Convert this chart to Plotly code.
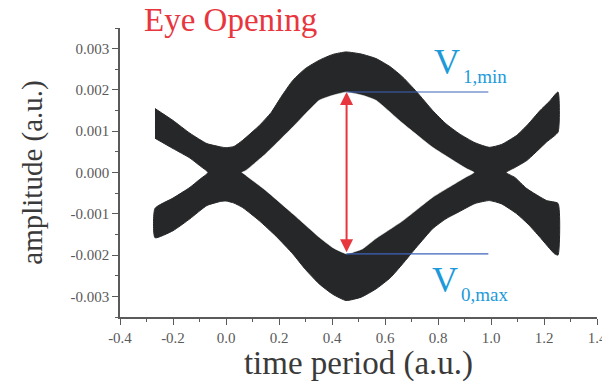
import plotly.graph_objects as go

# Amplitudes below are given in units of 1e-3 (a.u.)
AMP = 1e-3

# Outer envelope of the superimposed waveforms, traced left to right along the top
top_edge_x = [-0.268, -0.2, -0.136, -0.072, -0.02, 0.0, 0.03, 0.063, 0.126, 0.17, 0.21, 0.252, 0.30,
              0.352, 0.403, 0.453, 0.51, 0.566, 0.62, 0.667, 0.72, 0.78, 0.83, 0.88, 0.94, 0.994,
              1.04, 1.097, 1.14, 1.185, 1.22, 1.253]
top_edge_y = [1.55, 1.26, 0.95, 0.70, 0.62, 0.60, 0.63, 0.78, 1.14, 1.45, 1.85, 2.23, 2.52,
              2.72, 2.86, 2.92, 2.87, 2.76, 2.56, 2.31, 1.95, 1.50, 1.18, 0.94, 0.72, 0.61,
              0.68, 0.90, 1.17, 1.50, 1.72, 1.95]

# Inner edges of the right-hand arms (upper arm going left into the notch, lower arm going out)
right_upper_inner_x = [1.253, 1.21, 1.135, 1.09, 1.057]
right_upper_inner_y = [0.98, 0.74, 0.29, 0.12, 0.0]
right_lower_inner_x = [1.09, 1.135, 1.21, 1.253]
right_lower_inner_y = [-0.12, -0.39, -0.68, -0.75]

# Outer envelope along the bottom, traced right to left
bottom_edge_x = [1.253, 1.24, 1.185, 1.14, 1.097, 1.04, 0.994, 0.94, 0.88, 0.83, 0.78, 0.72, 0.667,
                 0.62, 0.566, 0.51, 0.453, 0.403, 0.352, 0.30, 0.252, 0.19, 0.126, 0.063, 0.03, 0.0,
                 -0.02, -0.072, -0.136, -0.2, -0.268]
bottom_edge_y = [-2.0, -1.97, -1.57, -1.25, -1.0, -0.76, -0.68, -0.75, -0.95, -1.12, -1.36, -1.8, -2.21,
                 -2.55, -2.82, -3.02, -3.1, -2.95, -2.7, -2.35, -1.97, -1.55, -1.17, -0.85, -0.74, -0.69,
                 -0.70, -0.80, -1.12, -1.41, -1.58]

# Inner edges of the left-hand arms
left_lower_inner_x = [-0.268, -0.2, -0.136, -0.10, -0.068]
left_lower_inner_y = [-0.87, -0.62, -0.36, -0.17, 0.0]
left_upper_inner_x = [-0.10, -0.136, -0.2, -0.268]
left_upper_inner_y = [0.17, 0.35, 0.58, 0.83]

# Open eye (the clear region between the "1" and "0" traces)
eye_top_x = [0.059, 0.075, 0.151, 0.252, 0.352, 0.403, 0.455, 0.515, 0.566, 0.667, 0.78, 0.906, 0.936]
eye_top_y = [0.0, 0.05, 0.46, 1.10, 1.75, 1.87, 1.95, 1.87, 1.75, 1.19, 0.61, 0.10, 0.0]
eye_bottom_x = [0.906, 0.78, 0.667, 0.566, 0.515, 0.455, 0.403, 0.352, 0.252, 0.151, 0.075]
eye_bottom_y = [-0.11, -0.6, -1.17, -1.6, -1.85, -1.97, -1.82, -1.57, -1.0, -0.44, -0.07]

# Sampling instant and the eye levels measured there
t_sample = 0.455
v1_min = 1.95
v0_max = -1.97
level_line_end = 0.99

# Axis ticks
x_ticks = [-0.4, -0.2, 0.0, 0.2, 0.4, 0.6, 0.8, 1.0, 1.2, 1.4]
x_ticktext = ["-0.4", "-0.2", "0.0", "0.2", "0.4", "0.6", "0.8", "1.0", "1.2", "1.4"]
x_minor = [-0.3, -0.1, 0.1, 0.3, 0.5, 0.7, 0.9, 1.1, 1.3]
y_ticks = [-0.003, -0.002, -0.001, 0.0, 0.001, 0.002, 0.003]
y_ticktext = ["-0.003", "-0.002", "-0.001", "0.000", "0.001", "0.002", "0.003"]
y_minor = [-0.0035, -0.0025, -0.0015, -0.0005, 0.0005, 0.0015, 0.0025, 0.0035]

BAND = "#262728"
RED = "#e8363e"
BLUE_TXT = "#1d9ad9"
BLUE_LINE = "#3f63ba"
GREY = "#5a5a5a"
SERIF = "Liberation Serif, Times New Roman, serif"

outline_x = (top_edge_x + right_upper_inner_x + right_lower_inner_x + bottom_edge_x
             + left_lower_inner_x + left_upper_inner_x)
outline_y = (top_edge_y + right_upper_inner_y + right_lower_inner_y + bottom_edge_y
             + left_lower_inner_y + left_upper_inner_y)
eye_x = eye_top_x + eye_bottom_x
eye_y = eye_top_y + eye_bottom_y

fig = go.Figure()
fig.add_trace(go.Scatter(
    x=outline_x, y=[v * AMP for v in outline_y], mode="lines", fill="toself",
    fillcolor=BAND, line=dict(color=BAND, width=1, shape="spline", smoothing=0.5),
    hoverinfo="skip", showlegend=False))
fig.add_trace(go.Scatter(
    x=eye_x, y=[v * AMP for v in eye_y], mode="lines", fill="toself",
    fillcolor="white", line=dict(color="white", width=0.5, shape="spline", smoothing=0.4),
    hoverinfo="skip", showlegend=False))

# Eye levels
for lvl in (v1_min, v0_max):
    fig.add_trace(go.Scatter(
        x=[t_sample, level_line_end], y=[lvl * AMP, lvl * AMP], mode="lines",
        line=dict(color=BLUE_LINE, width=1.1), hoverinfo="skip", showlegend=False))

# Eye opening arrow
fig.add_annotation(
    x=t_sample, y=v1_min * AMP, ax=t_sample, ay=v0_max * AMP,
    xref="x", yref="y", axref="x", ayref="y", text="", showarrow=True,
    arrowhead=2, startarrowhead=2, arrowside="end+start", arrowsize=1.3,
    startarrowsize=1.3, arrowwidth=2, arrowcolor=RED)

# Level labels
fig.add_annotation(x=0.777, y=2.68 * AMP, xref="x", yref="y", text="V", showarrow=False,
                   xanchor="left", yanchor="middle", font=dict(family=SERIF, size=36, color=BLUE_TXT))
fig.add_annotation(x=0.885, y=2.33 * AMP, xref="x", yref="y", text="1,min", showarrow=False,
                   xanchor="left", yanchor="middle", font=dict(family=SERIF, size=19, color=BLUE_TXT))
fig.add_annotation(x=0.770, y=-2.60 * AMP, xref="x", yref="y", text="V", showarrow=False,
                   xanchor="left", yanchor="middle", font=dict(family=SERIF, size=36, color=BLUE_TXT))
fig.add_annotation(x=0.878, y=-2.95 * AMP, xref="x", yref="y", text="0,max", showarrow=False,
                   xanchor="left", yanchor="middle", font=dict(family=SERIF, size=19, color=BLUE_TXT))

fig.update_layout(
    width=602, height=382,
    margin=dict(l=120, r=5, t=28, b=65),
    paper_bgcolor="white", plot_bgcolor="white",
    title=dict(text="Eye Opening", x=144 / 602, xanchor="left", xref="container",
               y=1 - 19 / 382, yanchor="middle", yref="container",
               font=dict(family=SERIF, size=33, color=RED)),
    xaxis=dict(
        range=[-0.4, 1.4], tickmode="array", tickvals=x_ticks, ticktext=x_ticktext,
        ticks="outside", ticklen=6, tickwidth=1.3, tickcolor=GREY,
        showline=True, linecolor=GREY, linewidth=1.6, showgrid=False, zeroline=False,
        tickfont=dict(family=SERIF, size=15, color=GREY), ticklabeloverflow="allow",
        minor=dict(tickmode="array", tickvals=x_minor, ticks="outside", ticklen=3,
                   tickwidth=1.2, tickcolor=GREY, showgrid=False),
        title=dict(text="time period (a.u.)", standoff=13,
                   font=dict(family=SERIF, size=33, color="#3a3a3a")),
        automargin=False),
    yaxis=dict(
        range=[-0.0035, 0.0035], tickmode="array", tickvals=y_ticks, ticktext=y_ticktext,
        ticks="outside", ticklen=6, tickwidth=1.3, tickcolor=GREY,
        showline=True, linecolor=GREY, linewidth=1.6, showgrid=False, zeroline=False,
        tickfont=dict(family=SERIF, size=15, color=GREY),
        minor=dict(tickmode="array", tickvals=y_minor, ticks="outside", ticklen=3,
                   tickwidth=1.2, tickcolor=GREY, showgrid=False),
        title=dict(text="amplitude (a.u.)", standoff=19,
                   font=dict(family=SERIF, size=29, color="#3a3a3a")),
        automargin=False),
)

fig.write_html("out.html")
